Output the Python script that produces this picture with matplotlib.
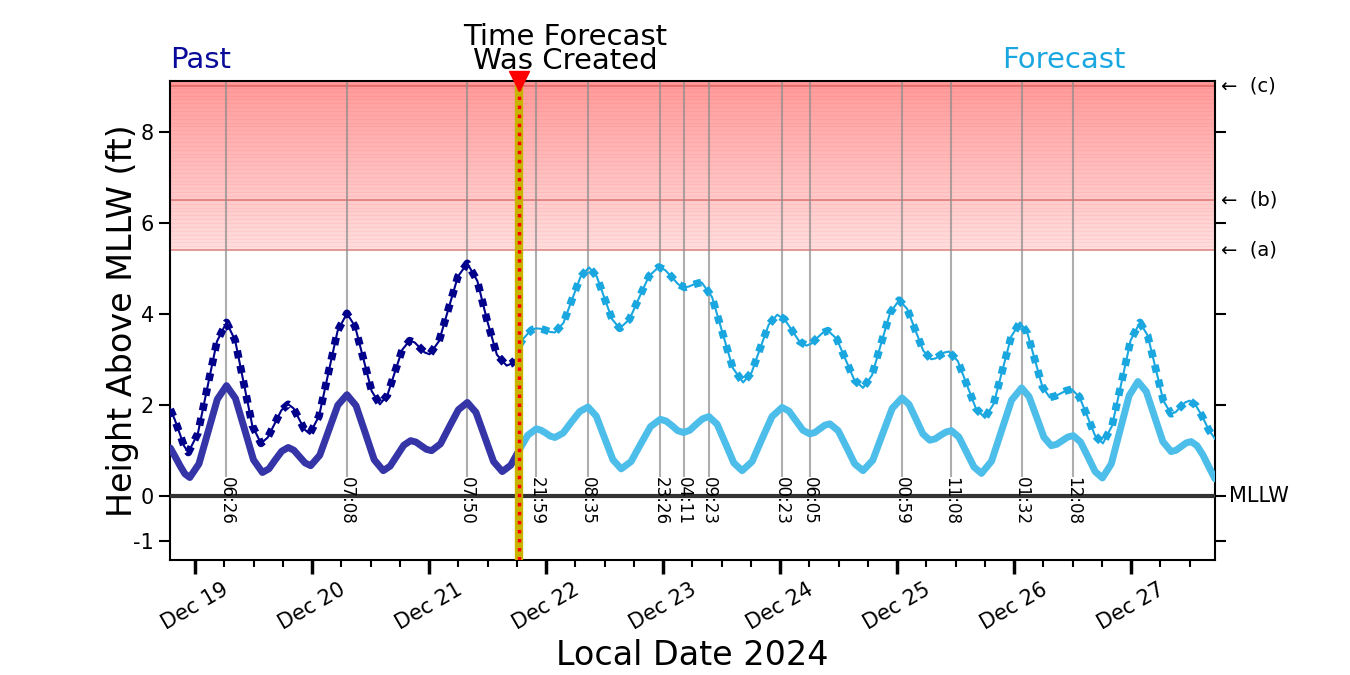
import numpy as np
import matplotlib.pyplot as plt
import matplotlib.dates as mdates
import matplotlib.transforms as mtransforms

# hours after 2024-12-19 00:00 (local), heights in ft above MLLW
base = np.datetime64('2024-12-19T00:00')

past_tide_h = [-5.1, -4.1, -3.1, -2.1, -1.1, 0.78, 2.66, 4.55, 6.43, 8.27, 10.12, 11.96, 13.8,
               15.13, 16.45, 17.78, 19.1, 20.25, 21.4, 22.55, 23.7, 25.56, 27.42, 29.27, 31.13,
               33.0, 34.87, 36.73, 38.6, 40.0, 41.4, 42.8, 44.2, 45.28, 46.35, 47.43, 48.5,
               50.33, 52.17, 54.0, 55.83, 57.62, 59.42, 61.21, 63.0, 64.75, 66.35]
past_tide_ft = [1.05, 0.86, 0.66, 0.48, 0.40, 0.70, 1.41, 2.12, 2.42, 2.14, 1.47, 0.79, 0.51,
                0.59, 0.79, 0.98, 1.06, 1.00, 0.86, 0.72, 0.66, 0.89, 1.44, 1.99, 2.22,
                1.98, 1.39, 0.79, 0.55, 0.65, 0.88, 1.11, 1.21, 1.18, 1.10, 1.02, 0.99,
                1.14, 1.52, 1.89, 2.05, 1.83, 1.29, 0.75, 0.53, 0.67, 0.98]

past_total_h = [-5.1, -4.2, -3.2, -2.3, -1.4, 0.56, 2.52, 4.47, 6.43, 8.2, 9.97, 11.73, 13.5,
                14.9, 16.3, 17.7, 19.1, 20.2, 21.3, 22.4, 23.5, 25.41, 27.32, 29.22, 31.13,
                32.82, 34.52, 36.21, 37.9, 39.43, 40.95, 42.48, 44.0, 45.03, 46.05, 47.08, 48.1,
                50.03, 51.97, 53.9, 55.83, 57.9, 59.9, 61.9, 63.9, 64.8, 65.6]
past_total_ft = [1.90, 1.68, 1.38, 1.10, 0.95, 1.37, 2.38, 3.39, 3.81, 3.42, 2.48, 1.54, 1.15,
                 1.28, 1.58, 1.88, 2.01, 1.92, 1.69, 1.46, 1.36, 1.75, 2.69, 3.62, 4.01,
                 3.72, 3.01, 2.30, 2.01, 2.21, 2.71, 3.21, 3.41, 3.37, 3.26, 3.15, 3.11,
                 3.40, 4.11, 4.82, 5.11, 4.72, 3.85, 3.10, 2.86, 2.90, 2.98]

fcst_tide_h = [66.35, 68.24, 69.98, 70.94, 71.89, 72.85, 73.8, 75.5, 77.19, 78.89, 80.58,
               82.29, 83.99, 85.7, 87.4, 89.41, 91.42, 93.42, 95.43, 96.62, 97.81, 98.99,
               100.18, 101.48, 102.78, 104.08, 105.38, 107.09, 108.79, 110.5, 112.2, 114.25,
               116.29, 118.34, 120.38, 121.81, 123.23, 124.66, 126.08, 127.11, 128.14, 129.17,
               130.2, 131.9, 133.6, 135.3, 137.0, 139.0, 140.99, 142.99, 144.98, 146.41,
               147.84, 149.27, 150.7, 151.81, 152.92, 154.02, 155.13, 156.67, 158.22, 159.76,
               161.3, 163.36, 165.42, 167.47, 169.53, 171.05, 172.57, 174.08, 175.6, 176.73,
               177.87, 179.0, 180.13, 181.62, 183.12, 184.61, 186.1, 187.93, 189.75, 191.58,
               193.4, 195.1, 196.8, 198.5, 200.2, 201.23, 202.25, 203.28, 204.3, 205.5,
               206.7, 208.0, 209.2]
fcst_tide_ft = [0.98, 1.33, 1.47, 1.44, 1.38, 1.31, 1.28, 1.38, 1.62, 1.85, 1.95,
                1.75, 1.27, 0.79, 0.59, 0.75, 1.14, 1.52, 1.68, 1.64, 1.54, 1.43,
                1.39, 1.44, 1.57, 1.69, 1.74, 1.57, 1.15, 0.72, 0.55, 0.75,
                1.25, 1.74, 1.94, 1.86, 1.65, 1.44, 1.36, 1.39, 1.47, 1.55,
                1.58, 1.43, 1.07, 0.70, 0.55, 0.78, 1.35, 1.92, 2.15, 2.01,
                1.69, 1.36, 1.22, 1.25, 1.33, 1.40, 1.43, 1.29, 0.96, 0.63,
                0.49, 0.76, 1.43, 2.10, 2.37, 2.18, 1.74, 1.29, 1.10, 1.13,
                1.21, 1.29, 1.32, 1.18, 0.86, 0.53, 0.39, 0.70, 1.45, 2.20,
                2.51, 2.29, 1.74, 1.19, 0.97, 1.00, 1.08, 1.16, 1.19, 1.10,
                0.90, 0.62, 0.37]

fcst_total_h = [66.4, 67.3, 68.2, 69.1, 69.98, 70.94, 71.89, 72.85, 73.8, 75.55, 77.3, 79.05,
                80.8, 82.38, 83.95, 85.53, 87.1, 89.1, 91.1, 93.1, 95.1, 96.43, 97.75, 99.08,
                100.4, 101.28, 102.15, 103.03, 103.9, 106.03, 108.15, 110.28, 112.4, 114.15,
                115.9, 117.65, 119.4, 120.9, 122.4, 123.9, 125.4, 126.5, 127.6, 128.7, 129.8,
                131.6, 133.4, 135.2, 137.0, 138.85, 140.7, 142.55, 144.4, 146.05, 147.7,
                149.35, 151.0, 151.9, 152.8, 153.7, 154.6, 156.45, 158.3, 160.15, 162.0,
                163.8, 165.6, 167.4, 169.2, 170.73, 172.25, 173.78, 175.3, 176.43, 177.55,
                178.68, 179.8, 181.4, 183.0, 184.6, 186.2, 188.1, 190.0, 191.9, 193.8, 195.4,
                197.0, 198.6, 200.2, 201.15, 202.1, 203.05, 204.0, 205.3, 206.6, 207.9, 209.2]
fcst_total_ft = [3.30, 3.45, 3.56, 3.65, 3.68, 3.67, 3.64, 3.60, 3.59, 3.80, 4.31, 4.81,
                 5.02, 4.82, 4.35, 3.88, 3.68, 3.88, 4.36, 4.83, 5.03, 4.96, 4.81, 4.65,
                 4.58, 4.60, 4.64, 4.67, 4.69, 4.37, 3.59, 2.81, 2.49, 2.71,
                 3.24, 3.76, 3.98, 3.88, 3.64, 3.40, 3.30, 3.35, 3.47, 3.58, 3.63,
                 3.45, 3.00, 2.55, 2.37, 2.65, 3.34, 4.02, 4.30, 4.11, 3.65,
                 3.19, 3.00, 3.02, 3.09, 3.15, 3.17, 2.96, 2.44, 1.92, 1.71,
                 2.02, 2.76, 3.50, 3.81, 3.57, 2.99, 2.40, 2.16, 2.19, 2.25,
                 2.31, 2.34, 2.17, 1.75, 1.32, 1.15, 1.54, 2.48, 3.42, 3.81, 3.52,
                 2.81, 2.09, 1.80, 1.84, 1.95, 2.05, 2.09, 1.98, 1.74, 1.45, 1.25]

hi_times = ['2024-12-19T06:26', '2024-12-20T07:08', '2024-12-21T07:50', '2024-12-21T21:59',
            '2024-12-22T08:35', '2024-12-22T23:26', '2024-12-23T04:11', '2024-12-23T09:23',
            '2024-12-24T00:23', '2024-12-24T06:05', '2024-12-25T00:59', '2024-12-25T11:08',
            '2024-12-26T01:32', '2024-12-26T12:08']

forecast_made = np.datetime64('2024-12-21T18:21')
flood_levels = [5.4, 6.5, 9.0]
flood_names = ['(a)', '(b)', '(c)']

x_start = np.datetime64('2024-12-18T18:52')
x_end = np.datetime64('2024-12-27T17:12')
y_lo, y_hi = -1.42, 9.12

past_dark = '#00008b'
past_soft = '#3535a8'
fc_dark = '#1aa7e0'
fc_soft = '#4dbde9'


def to_time(hours):
    return base + (np.array(hours) * 60).round().astype('timedelta64[m]')


fig = plt.figure(figsize=(13.5, 6.75), dpi=100)
ax = fig.add_axes([0.126, 0.170, 0.774, 0.710])

# flood shading: red fading downwards, with faint stripes
n = 256
shade = np.zeros((n, 1, 4))
shade[:, 0, 0] = 1.0
shade[:, 0, 3] = np.linspace(0.13, 0.40, n)
x0, x1 = mdates.date2num(x_start), mdates.date2num(x_end)
ax.imshow(shade, extent=[x0, x1, flood_levels[0], y_hi], origin='lower', aspect='auto',
          interpolation='bilinear', zorder=0)
ax.hlines(np.arange(flood_levels[0], y_hi, 0.085), x0, x1, color='red', alpha=0.06, lw=0.8, zorder=0)
for lvl in flood_levels:
    ax.axhline(lvl, color='#c83c3c', alpha=0.55, lw=1.2, zorder=1)

# high/low time markers
hi = np.array(hi_times, dtype='datetime64[m]')
ax.vlines(hi, 0.4, y_hi, color='#8c8c8c', alpha=0.7, lw=1.5, zorder=1)
for t in hi:
    lab = str(t)[11:16]
    ax.text(t, -0.12, lab, rotation=270, ha='center', va='center', fontsize=12, zorder=4)

ax.axhline(0, color='#333333', lw=3, zorder=3)

# past
ax.plot(to_time(past_tide_h), past_tide_ft, color=past_soft, lw=5, solid_capstyle='round', zorder=3)
ax.plot(to_time(past_total_h), past_total_ft, color=past_dark, lw=1.5, zorder=3)
ax.plot(to_time(past_total_h), past_total_ft, color=past_dark, lw=5.5, ls=(0, (1, 1)), zorder=3)

# forecast
ax.plot(to_time(fcst_tide_h), fcst_tide_ft, color=fc_soft, lw=5, solid_capstyle='round', zorder=3)
ax.plot(to_time(fcst_total_h), fcst_total_ft, color=fc_dark, lw=1.5, zorder=3)
ax.plot(to_time(fcst_total_h), fcst_total_ft, color=fc_dark, lw=5.5, ls=(0, (1, 1)), zorder=3)

# time the forecast was made
ax.axvline(forecast_made, color='#c8b400', lw=6, zorder=5)
ax.axvline(forecast_made, color='red', lw=2.5, ls=(0, (1, 1.6)), zorder=6)
ax.plot(forecast_made, y_hi, 'v', color='red', ms=14, clip_on=False, zorder=7)

ax.set_xlim(x_start, x_end)
ax.set_ylim(y_lo, y_hi)
ax.set_yticks([-1, 0, 2, 4, 6, 8])
ax.set_yticklabels(['-1', '0', '2', '4', '6', '8'])
ax.xaxis.set_major_locator(mdates.DayLocator())
ax.xaxis.set_minor_locator(mdates.HourLocator(byhour=[6, 12, 18]))
ax.xaxis.set_major_formatter(mdates.DateFormatter('%b %d'))
for lab in ax.get_xticklabels():
    lab.set_rotation(30)
    lab.set_ha('center')

ax.tick_params(axis='y', which='major', length=8, width=1.5, labelsize=15, right=True)
ax.tick_params(axis='x', which='major', length=10, width=2.5, labelsize=15, pad=4)
ax.tick_params(axis='x', which='minor', length=5, width=1.5)
for sp in ax.spines.values():
    sp.set_linewidth(1.5)

ax.set_ylabel('Height Above MLLW (ft)', fontsize=24, labelpad=-4)
ax.set_xlabel('Local Date 2024', fontsize=24, labelpad=4)

trans = mtransforms.blended_transform_factory(ax.transAxes, ax.transData)
ax.text(1.0135, 0, 'MLLW', transform=trans, va='center', ha='left', fontsize=15)
for lvl, nm in zip(flood_levels, flood_names):
    ax.text(1.006, lvl, '\u2190  ' + nm, transform=trans, va='center', ha='left', fontsize=14)

fig.text(0.126, 0.90, 'Past', color='#0a0a9a', fontsize=21, ha='left', va='baseline')
fig.text(0.8335, 0.90, 'Forecast', color=fc_dark, fontsize=21, ha='right', va='baseline')
fig.text(0.4185, 0.889, 'Time Forecast\nWas Created', fontsize=21, ha='center', va='bottom',
         linespacing=0.8)

fig.savefig('out.png', dpi=100)
